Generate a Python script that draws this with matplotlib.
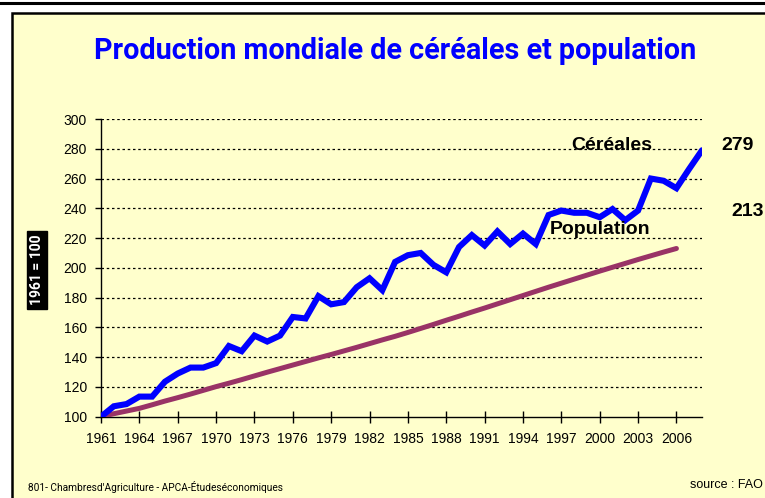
import matplotlib
matplotlib.use("Agg")
import matplotlib.pyplot as plt
from matplotlib.patches import Rectangle
from matplotlib.lines import Line2D

# data (index 1961 = 100)
years_cer = list(range(1961, 2009))
cereales = [100, 107, 108.5, 113.5, 113.5, 123.5, 129, 133, 133, 136,
            147.5, 144, 154.5, 150.5, 154.5, 167, 166, 181, 175.5, 177,
            187, 193, 185, 204, 208.5, 210, 202, 197, 214, 222,
            215, 224.5, 216, 223, 216, 235.5, 238.5, 237, 237, 234,
            239.5, 232, 238.5, 260, 258.5, 253.5, 266.5, 279]
years_pop = list(range(1961, 2007))
population = [100, 102, 103.8, 105.6, 108, 110.5, 112.8, 115.2, 117.7, 120.2,
              122.5, 124.9, 127.4, 129.9, 132.3, 134.7, 137.1, 139.5, 141.8, 144.2,
              146.6, 149.1, 151.6, 154, 156.6, 159.3, 162, 164.8, 167.5, 170.3,
              173, 175.8, 178.6, 181.4, 184.2, 187, 189.7, 192.4, 195.1, 197.8,
              200.4, 203, 205.6, 208.1, 210.6, 213]
xticks = list(range(1961, 2007, 3))
yticks = list(range(100, 301, 20))

narrow = ["Roboto", "Liberation Sans", "DejaVu Sans"]
regular = ["Liberation Sans", "DejaVu Sans"]
bg = "#FFFFCC"

fig = plt.figure(figsize=(7.65, 4.98), dpi=100)
fig.patch.set_facecolor("white")

# frame like the original slide
fig.add_artist(Line2D([0, 1], [1 - 3.5/498, 1 - 3.5/498], color="black", lw=2.2,
                      transform=fig.transFigure))
fig.add_artist(Rectangle((12/765, -0.05), 1.1, (498 - 13)/498 + 0.05, transform=fig.transFigure,
                         facecolor=bg, edgecolor="black", lw=1.8, zorder=0))

ax = fig.add_axes([101/765, 81.3/498, 601/765, 297.7/498])
ax.set_facecolor(bg)
ax.patch.set_alpha(0)

ax.plot(years_pop, population, color="#993366", lw=3.6, solid_capstyle="round", zorder=3)
ax.plot(years_cer, cereales, color="#0000FF", lw=4.4, solid_capstyle="round",
        solid_joinstyle="miter", zorder=4)

ax.set_xlim(1961, 2008)
ax.set_ylim(100, 300)
ax.set_yticks(yticks)
ax.set_xticks(xticks)
for v in yticks[1:]:
    ax.axhline(v, color="black", lw=0.9, ls=(0, (2, 2.2)), zorder=1)

ax.spines["top"].set_visible(False)
ax.spines["right"].set_visible(False)
for s in ("left", "bottom"):
    ax.spines[s].set_linewidth(1.0)
ax.tick_params(axis="y", direction="out", length=4, width=1, pad=6)
ax.tick_params(axis="x", direction="inout", length=8, width=1, pad=7)
for lab in ax.get_yticklabels() + ax.get_xticklabels():
    lab.set_family(regular)
    lab.set_fontsize(10)

# titles and labels
fig.text(395/765, 1 - 51/498, "Production mondiale de céréales et population",
         ha="center", va="center", color="#0000FF", fontsize=20.7, fontweight="bold", family=narrow)
fig.text(37/765, 1 - 270/498, "1961 = 100", rotation=90, ha="center", va="center",
         color="white", fontsize=10, fontweight="bold", family=narrow,
         bbox=dict(facecolor="black", edgecolor="black", pad=2.5))

fig.text(612/765, 1 - 145/498, "Céréales", ha="center", va="center",
         fontsize=14, fontweight="bold", family=regular)
fig.text(600/765, 1 - 230/498, "Population", ha="center", va="center",
         fontsize=14, fontweight="bold", family=regular)
fig.text(738/765, 1 - 145/498, "279", ha="center", va="center",
         fontsize=14, fontweight="bold", family=regular)
fig.text(748/765, 1 - 211/498, "213", ha="center", va="center",
         fontsize=14, fontweight="bold", family=regular)

fig.text(28/765, 1 - 487/498, "801- Chambresd'Agriculture - APCA-Étudeséconomiques",
         ha="left", va="center", fontsize=7.3, family=narrow)
fig.text(763/765, 1 - 485/498, "source : FAO", ha="right", va="center",
         fontsize=9, family=regular)

fig.savefig("out.png", dpi=100, facecolor=fig.get_facecolor())
